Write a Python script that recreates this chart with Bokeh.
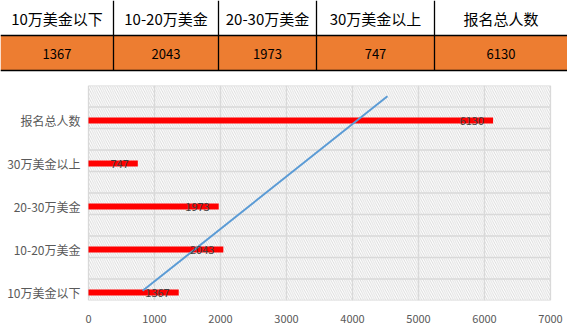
from bokeh.plotting import figure
from bokeh.layouts import column
from bokeh.models import Range1d, FixedTicker, ColumnDataSource
from bokeh.core.properties import value
from bokeh.embed import file_html
from bokeh.resources import INLINE

# ---- data ----
categories = ["10万美金以下", "10-20万美金", "20-30万美金", "30万美金以上", "报名总人数"]
counts = [1367, 2043, 1973, 747, 6130]
trend_x = [820, 4530]
trend_y = [0.45, 9.5]
x_ticks = [0, 1000, 2000, 3000, 4000, 5000, 6000, 7000]
y_grid = list(range(11))

FONT = "Noto Sans CJK SC"
W = 567
TABLE_H = 72
CHART_H = 334 - TABLE_H - 2

# ---- table ----
edges = [0, 113, 218, 316, 434, 567]
t = figure(width=W, height=TABLE_H, x_range=Range1d(0, W), y_range=Range1d(TABLE_H, 0),
           toolbar_location=None, output_backend="svg", min_border=0,
           x_axis_location=None, y_axis_location=None)
t.outline_line_color = None
t.xgrid.visible = False
t.ygrid.visible = False
t.quad(left=edges[:-1], right=edges[1:], top=[35] * 5, bottom=[70] * 5,
       fill_color="#ED7D31", line_color=None)
t.segment(x0=edges[1:-1], y0=[0] * 4, x1=edges[1:-1], y1=[70] * 4, line_color="black", line_width=1.3)
t.segment(x0=[0, 0], y0=[35, 70], x1=[W, W], y1=[35, 70], line_color="black", line_width=1.5)
centers = [(edges[i] + edges[i + 1]) / 2 for i in range(5)]
t.text(x=centers, y=[18] * 5, text=categories, text_align="center", text_baseline="middle",
       text_font=value(FONT), text_font_size="15px", text_color="black")
t.text(x=centers, y=[53] * 5, text=[str(c) for c in counts], text_align="center",
       text_baseline="middle", text_font=value(FONT), text_font_size="13px", text_color="black")

# ---- chart ----
XMAX = 7000
PLOT_L, PLOT_R = 88, 550
upp = XMAX / (PLOT_R - PLOT_L)
ypos = [2 * i + 0.37 for i in range(len(categories))]
src = ColumnDataSource(dict(y=ypos, v=counts, lab=[str(c) for c in counts], zero=[0] * 5,
                            cat=categories))

p = figure(width=W, height=CHART_H,
           x_range=Range1d(-PLOT_L * upp, XMAX + (W - PLOT_R) * upp), y_range=Range1d(0, 10),
           toolbar_location=None, output_backend="svg", y_axis_location=None,
           min_border_left=0, min_border_right=0, min_border_top=13, min_border_bottom=CHART_H - 13 - 215)
p.outline_line_color = None
p.xgrid.visible = False
p.ygrid.visible = False

# hatched background of plot area
p.quad(left=[0], right=[XMAX], bottom=[0], top=[10], fill_color="white", line_color=None,
       hatch_pattern="left_diagonal_line", hatch_color="#D6D6D6", hatch_scale=4.5, hatch_weight=0.9)

# gridlines (under bars)
p.segment(x0=x_ticks, y0=[0] * len(x_ticks), x1=x_ticks, y1=[10] * len(x_ticks),
          line_color="#D9D9D9", line_width=1.3)
p.segment(x0=[0] * len(y_grid), y0=y_grid, x1=[XMAX] * len(y_grid), y1=y_grid,
          line_color="#D9D9D9", line_width=1.3)

p.hbar(y="y", left="zero", right="v", height=0.28, source=src, fill_color="#FF0000", line_color=None)
p.line(trend_x, trend_y, line_color="#5B9BD5", line_width=2)
p.text(x="v", y="y", text="lab", source=src, text_align="right", text_baseline="middle",
       x_offset=-9, text_font=value(FONT), text_font_size="11px", text_color="#404040")
# category labels
p.text(x="zero", y="y", text="cat", source=src, text_align="right", text_baseline="middle",
       x_offset=-8, text_font=value(FONT), text_font_size="12px", text_color="#595959")

p.xaxis.ticker = FixedTicker(ticks=x_ticks)
ax = p.xaxis[0]
ax.axis_line_color = None
ax.major_tick_line_color = None
ax.minor_tick_line_color = None
ax.major_label_text_color = "#595959"
ax.major_label_text_font = FONT
ax.major_label_text_font_size = "11px"
ax.major_label_standoff = 8

# thin bottom border line of the chart area
b = figure(width=W, height=2, toolbar_location=None, output_backend="svg", min_border=0,
           x_axis_location=None, y_axis_location=None)
b.outline_line_color = None
b.xgrid.visible = False
b.ygrid.visible = False
b.background_fill_color = "#D9D9D9"
b.border_fill_color = "#D9D9D9"

layout = column(t, p, b, spacing=0)
open("out.html", "w").write(file_html(layout, INLINE))
